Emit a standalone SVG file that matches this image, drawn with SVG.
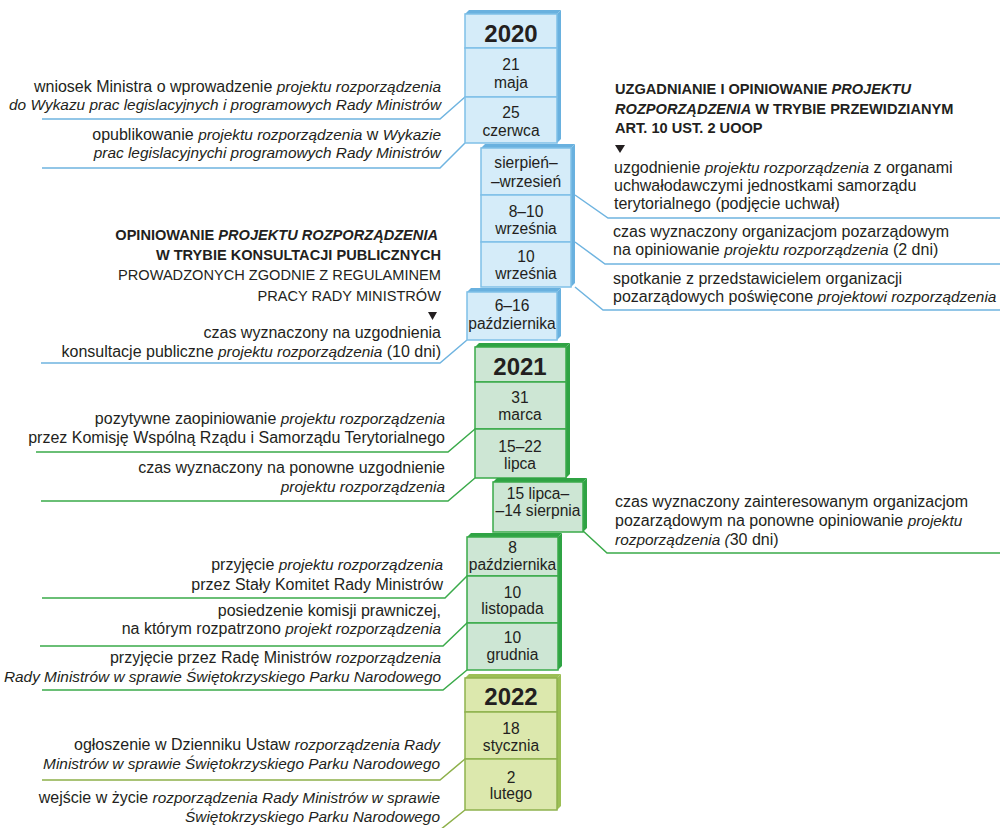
<svg xmlns="http://www.w3.org/2000/svg" width="1004" height="828" viewBox="0 0 1004 828">
<style>
text{font-family:"Liberation Sans",Arial,sans-serif;font-size:16px;fill:#231f20}
.l{text-anchor:end}
.c{text-anchor:middle;font-size:15.6px}
.i{font-style:italic;font-size:15.4px}
.h{font-size:14.6px;font-weight:bold}
.h .i{font-size:14.6px}
.hn{font-size:14.6px}
.yr{font-size:24px;font-weight:bold;text-anchor:middle}
.bf{fill:#d5ecf9;stroke:#7fc0e7;stroke-width:1.5}
.bs{fill:#69b1df}
.gf{fill:#cde6d4;stroke:#3aaa4a;stroke-width:1.5}
.gs{fill:#2fa344}
.yf{fill:#dce8ad;stroke:#8fb24e;stroke-width:1.5}
.ys{fill:#9cbf55}
.cb{fill:none;stroke:#6fb4e0;stroke-width:1.5}
.cg{fill:none;stroke:#3aaa4a;stroke-width:1.5}
.cy{fill:none;stroke:#8db04a;stroke-width:1.5}
</style>

<g id="connectors">
<path class="cb" d="M465,97 L440,119 H42"/>
<path class="cb" d="M465,143 L440,168 H42"/>
<path class="cb" d="M575,195 L608,218 H1000"/>
<path class="cb" d="M575,242 L605,264 H1000"/>
<path class="cb" d="M575,287 L603,310 H1000"/>
<path class="cb" d="M467,340 L440,363 H41"/>
<path class="cg" d="M475,429 L448,452 H36"/>
<path class="cg" d="M475,478 L448,501 H41"/>
<path class="cg" d="M582,530 L607,553 H1000"/>
<path class="cg" d="M467,576 L445,598 H42"/>
<path class="cg" d="M467,623 L443,646 H40"/>
<path class="cg" d="M467,670 L443,690 H42"/>
<path class="cy" d="M465,759 L440,780 H42"/>
<path class="cy" d="M465,810 L440,830 H42"/>
</g>

<g id="col-2020">
<polygon class="bs" points="465,14 469,10 561,10 557,14"/>
<polygon class="bs" points="557,14 561,10 561,139 557,143"/>
<rect class="bf" x="465" y="14" width="92" height="34"/>
<rect class="bf" x="465" y="48" width="92" height="49"/>
<rect class="bf" x="465" y="97" width="92" height="46"/>
<text class="yr" x="511" y="42">2020</text>
<text class="c" x="511" y="70">21</text>
<text class="c" x="511" y="88">maja</text>
<text class="c" x="511" y="118">25</text>
<text class="c" x="511" y="136">czerwca</text>
</g>

<g id="col-sierpien">
<polygon class="bs" points="481,148 485,144 575,144 571,148"/>
<polygon class="bs" points="571,148 575,144 575,283 571,287"/>
<rect class="bf" x="481" y="148" width="90" height="47"/>
<rect class="bf" x="481" y="195" width="90" height="47"/>
<rect class="bf" x="481" y="242" width="90" height="45"/>
<text class="c" x="526" y="168">sierpień–</text>
<text class="c" x="526" y="187">–wrzesień</text>
<text class="c" x="526" y="217">8–10</text>
<text class="c" x="526" y="234">września</text>
<text class="c" x="526" y="262">10</text>
<text class="c" x="526" y="279">września</text>
</g>

<g id="col-pazdziernik">
<polygon class="bs" points="467,292 471,288 561,288 557,292"/>
<polygon class="bs" points="557,292 561,288 561,336 557,340"/>
<rect class="bf" x="467" y="292" width="90" height="48"/>
<text class="c" x="512" y="311">6–16</text>
<text class="c" x="512" y="329">października</text>
</g>

<g id="col-2021">
<polygon class="gs" points="475,347 479,343 570,343 566,347"/>
<polygon class="gs" points="566,347 570,343 570,474 566,478"/>
<rect class="gf" x="475" y="347" width="91" height="35"/>
<rect class="gf" x="475" y="382" width="91" height="47"/>
<rect class="gf" x="475" y="429" width="91" height="49"/>
<text class="yr" x="520" y="375">2021</text>
<text class="c" x="520" y="403">31</text>
<text class="c" x="520" y="420">marca</text>
<text class="c" x="520" y="452">15–22</text>
<text class="c" x="520" y="469">lipca</text>
</g>

<g id="col-lipiec">
<polygon class="gs" points="493,482 497,478 587,478 583,482"/>
<polygon class="gs" points="583,482 587,478 587,528 583,532"/>
<rect class="gf" x="493" y="482" width="90" height="50"/>
<text class="c" x="538" y="499">15 lipca–</text>
<text class="c" x="538" y="516">–14 sierpnia</text>
</g>

<g id="col-pazdziernik-2021">
<polygon class="gs" points="467,537 471,533 562,533 558,537"/>
<polygon class="gs" points="558,537 562,533 562,666 558,670"/>
<rect class="gf" x="467" y="537" width="91" height="39"/>
<rect class="gf" x="467" y="576" width="91" height="47"/>
<rect class="gf" x="467" y="623" width="91" height="47"/>
<text class="c" x="512.5" y="553">8</text>
<text class="c" x="512.5" y="570">października</text>
<text class="c" x="512.5" y="598">10</text>
<text class="c" x="512.5" y="614">listopada</text>
<text class="c" x="512.5" y="643">10</text>
<text class="c" x="512.5" y="660">grudnia</text>
</g>

<g id="col-2022">
<polygon class="ys" points="465,678 469,674 561,674 557,678"/>
<polygon class="ys" points="557,678 561,674 561,806 557,810"/>
<rect class="yf" x="465" y="678" width="92" height="34"/>
<rect class="yf" x="465" y="712" width="92" height="47"/>
<rect class="yf" x="465" y="759" width="92" height="51"/>
<text class="yr" x="511" y="705">2022</text>
<text class="c" x="511" y="734">18</text>
<text class="c" x="511" y="751">stycznia</text>
<text class="c" x="511" y="783">2</text>
<text class="c" x="511" y="799">lutego</text>
</g>

<g id="note-wniosek">
<text class="l" x="441" y="92">wniosek Ministra o wprowadzenie <tspan class="i">projektu rozporządzenia</tspan></text>
<text class="l i" x="441" y="110">do Wykazu prac legislacyjnych i programowych Rady Ministrów</text>
</g>
<g id="note-opublikowanie">
<text class="l" x="441" y="140">opublikowanie <tspan class="i">projektu rozporządzenia</tspan> w <tspan class="i">Wykazie</tspan></text>
<text class="l i" x="441" y="158">prac legislacyjnychi programowych Rady Ministrów</text>
</g>

<g id="heading-uoop">
<text x="615" y="94" class="h">UZGADNIANIE I OPINIOWANIE <tspan class="i">PROJEKTU</tspan></text>
<text x="615" y="114" class="h"><tspan class="i">ROZPORZĄDZENIA</tspan> W TRYBIE PRZEWIDZIANYM</text>
<text x="615" y="133" class="h">ART. 10 UST. 2 UOOP</text>
<polygon points="615,145 625,145 620,153" fill="#231f20"/>
</g>
<g id="note-uzgodnienie">
<text x="614" y="173">uzgodnienie <tspan class="i">projektu rozporządzenia</tspan> z organami</text>
<text x="614" y="191">uchwałodawczymi jednostkami samorządu</text>
<text x="614" y="209">terytorialnego (podjęcie uchwał)</text>
</g>
<g id="note-2dni">
<text x="613" y="237">czas wyznaczony organizacjom pozarządowym</text>
<text x="613" y="255">na opiniowanie <tspan class="i">projektu rozporządzenia</tspan> (2 dni)</text>
</g>
<g id="note-spotkanie">
<text x="613" y="284">spotkanie z przedstawicielem organizacji</text>
<text x="613" y="302">pozarządowych poświęcone <tspan class="i">projektowi rozporządzenia</tspan></text>
</g>

<g id="heading-konsultacje">
<text class="l h" x="438" y="240">OPINIOWANIE <tspan class="i">PROJEKTU ROZPORZĄDZENIA</tspan></text>
<text class="l h" x="441" y="260">W TRYBIE KONSULTACJI PUBLICZNYCH</text>
<text class="l hn" x="441" y="280">PROWADZONYCH ZGODNIE Z REGULAMINEM</text>
<text class="l hn" x="441" y="301">PRACY RADY MINISTRÓW</text>
<polygon points="428,312 437,312 432.5,320" fill="#231f20"/>
</g>
<g id="note-10dni">
<text class="l" x="441" y="338">czas wyznaczony na uzgodnienia</text>
<text class="l" x="441" y="357">konsultacje publiczne <tspan class="i">projektu rozporządzenia</tspan> (10 dni)</text>
</g>

<g id="note-pozytywne">
<text class="l" x="445" y="424">pozytywne zaopiniowanie <tspan class="i">projektu rozporządzenia</tspan></text>
<text class="l" x="445" y="443">przez Komisję Wspólną Rządu i Samorządu Terytorialnego</text>
</g>
<g id="note-ponowne">
<text class="l" x="445" y="473">czas wyznaczony na ponowne uzgodnienie</text>
<text class="l i" x="445" y="492">projektu rozporządzenia</text>
</g>
<g id="note-30dni">
<text x="615" y="507">czas wyznaczony zainteresowanym organizacjom</text>
<text x="615" y="526">pozarządowym na ponowne opiniowanie <tspan class="i">projektu</tspan></text>
<text x="615" y="545"><tspan class="i">rozporządzenia (</tspan>30 dni)</text>
</g>
<g id="note-staly">
<text class="l" x="443" y="570">przyjęcie <tspan class="i">projektu rozporządzenia</tspan></text>
<text class="l" x="443" y="590">przez Stały Komitet Rady Ministrów</text>
</g>
<g id="note-komisja">
<text class="l" x="441" y="616">posiedzenie komisji prawniczej,</text>
<text class="l" x="441" y="634">na którym rozpatrzono <tspan class="i">projekt rozporządzenia</tspan></text>
</g>
<g id="note-rada">
<text class="l" x="441" y="663">przyjęcie przez Radę Ministrów <tspan class="i">rozporządzenia</tspan></text>
<text class="l i" x="441" y="682">Rady Ministrów w sprawie Świętokrzyskiego Parku Narodowego</text>
</g>
<g id="note-ogloszenie">
<text class="l" x="440" y="750">ogłoszenie w Dzienniku Ustaw <tspan class="i">rozporządzenia Rady</tspan></text>
<text class="l i" x="440" y="769">Ministrów w sprawie Świętokrzyskiego Parku Narodowego</text>
</g>
<g id="note-wejscie">
<text class="l" x="440" y="803">wejście w życie <tspan class="i">rozporządzenia Rady Ministrów w sprawie</tspan></text>
<text class="l i" x="440" y="822">Świętokrzyskiego Parku Narodowego</text>
</g>
</svg>
